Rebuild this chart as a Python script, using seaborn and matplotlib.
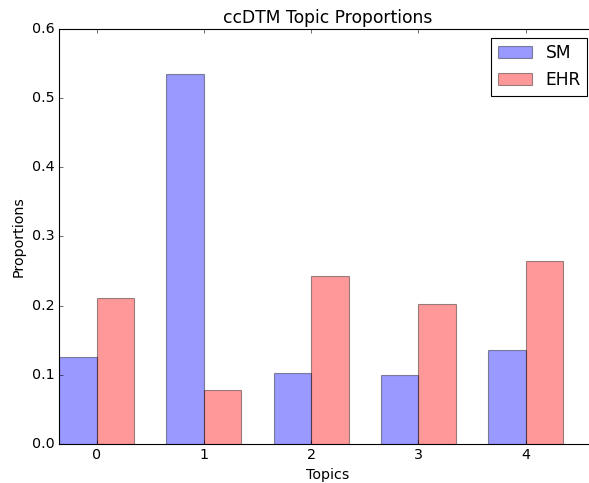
import matplotlib
matplotlib.use("Agg")
import matplotlib.pyplot as plt
import seaborn as sns
import pandas as pd

# Topic proportions
topics = [0, 1, 2, 3, 4]
sm_props = [0.126, 0.535, 0.102, 0.100, 0.136]
ehr_props = [0.211, 0.078, 0.243, 0.202, 0.265]
series_names = ["SM", "EHR"]

plt.style.use("classic")
plt.rcParams["font.family"] = ["DejaVu Sans"]
plt.rcParams["font.size"] = 12.8


def main():
    df = pd.DataFrame(
        {
            "Topic": topics * 2,
            "Proportion": sm_props + ehr_props,
            "Source": [series_names[0]] * len(topics) + [series_names[1]] * len(topics),
        }
    )

    fig = plt.figure(figsize=(589 / 80, 483 / 80), dpi=80)
    # axes runs slightly past the right edge, as in the cropped reference
    ax = fig.add_axes([59 / 589, 39 / 483, 537 / 589, 415 / 483])

    sns.barplot(
        data=df,
        x="Topic",
        y="Proportion",
        hue="Source",
        palette=["blue", "red"],
        saturation=1,
        width=0.7,
        alpha=0.4,
        edgecolor="black",
        linewidth=1,
        errorbar=None,
        ax=ax,
    )

    ax.set_xlim(-0.35, 4.655)
    ax.set_ylim(0, 0.6)
    ax.set_yticks([0.0, 0.1, 0.2, 0.3, 0.4, 0.5, 0.6])
    ax.set_yticklabels(["0.0", "0.1", "0.2", "0.3", "0.4", "0.5", "0.6"])
    ax.set_xlabel("Topics", labelpad=5)
    ax.set_ylabel("Proportions", labelpad=6)
    ax.set_title("ccDTM Topic Proportions")
    ax.grid(False)

    handles, labels = ax.get_legend_handles_labels()
    ax.legend(handles, labels, loc="upper right", fancybox=False, fontsize="large")

    fig.savefig("out.png", dpi=80)


if __name__ == "__main__":
    main()
